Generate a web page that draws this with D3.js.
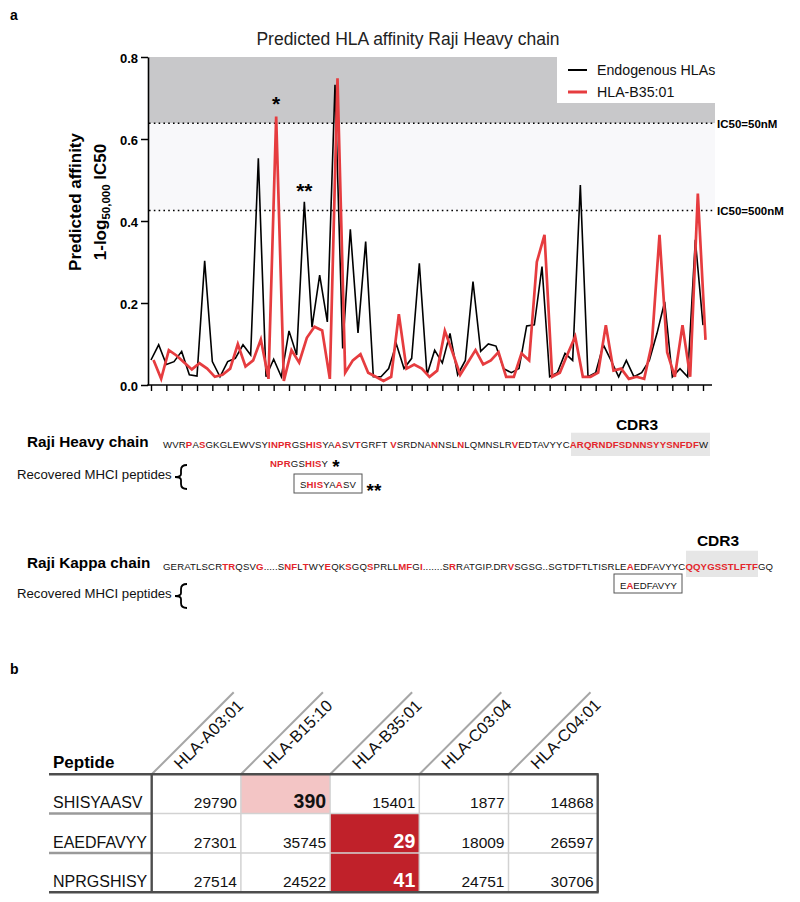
<!DOCTYPE html>
<html><head><meta charset="utf-8">
<script src="https://cdn.jsdelivr.net/npm/d3@7"></script>
<style>body{margin:0;background:#fff} svg{font-family:Arial,"Liberation Sans",sans-serif}</style>
</head><body><svg id="c" width="800" height="902"></svg>
<script>
// ---------- DATA ----------
const endogenous = [0.061,0.098,0.050,0.057,0.082,0.025,0.022,0.303,0.057,0.020,
  0.057,0.065,0.098,0.073,0.553,0.020,0.063,0.020,0.132,0.073,
  0.447,0.141,0.268,0.154,0.732,0.089,0.380,0.127,0.350,0.020,
  0.020,0.040,0.100,0.040,0.065,0.297,0.025,0.085,0.054,0.126,
  0.025,0.060,0.252,0.082,0.100,0.095,0.040,0.030,0.040,0.144,
  0.147,0.289,0.020,0.030,0.077,0.060,0.488,0.020,0.030,0.098,
  0.060,0.020,0.060,0.020,0.030,0.060,0.126,0.203,0.020,0.040,
  0.020,0.354,0.146];
const hlaB3501 = [0.061,0.015,0.085,0.072,0.055,0.038,0.053,0.040,0.020,0.025,
  0.040,0.100,0.045,0.060,0.111,0.015,0.655,0.010,0.085,0.055,
  0.115,0.142,0.133,0.015,0.748,0.030,0.060,0.075,0.030,0.020,
  0.010,0.020,0.173,0.040,0.050,0.040,0.020,0.035,0.132,0.080,
  0.025,0.055,0.085,0.050,0.060,0.080,0.020,0.020,0.077,0.060,
  0.300,0.366,0.020,0.030,0.075,0.118,0.020,0.020,0.030,0.146,
  0.035,0.040,0.015,0.020,0.015,0.100,0.366,0.080,0.020,0.146,
  0.020,0.467,0.110];
const yTicks = [0, 0.2, 0.4, 0.6, 0.8];
const thresholdsNM = [50, 500];
const thresholdLabels = ["IC50=50nM", "IC50=500nM"];
const seriesNames = ["Endogenous HLAs", "HLA-B35:01"];
const starIdx = [16, 20];
const starText = ["*", "**"];

const heavySeq = "WVR[P]A[S]GKGLEWVSY[INPR]GS[HIS]YA[A]SV[T]GRFT [V]SRDNA[N]NSL[N]LQMNSLR[V]EDTAVYYC[ARQRNDFSDNNSYYSNFDF]W";
const kappaSeq = "GERATLSCR[TR]QSV[G].....S[NF]L[T]WY[E]QK[S]GQ[S]PRLL[MF]G[I].......S[R]RATGIP.DR[V]SGSG..SGTDFTLTISRLE[A]EDFAVYYC[QQYGSSTLFTF]GQ";
const heavyPep1 = "[NPR]GS[HIS]Y";
const heavyPep2 = "S[HIS]YA[A]SV";
const kappaPep = "E[A]EDFAVYY";

const peptides = ["SHISYAASV", "EAEDFAVYY", "NPRGSHISY"];
const alleles = ["HLA-A03:01", "HLA-B15:10", "HLA-B35:01", "HLA-C03:04", "HLA-C04:01"];
const ic50 = [
  [29790, 390, 15401, 1877, 14868],
  [27301, 35745, 29, 18009, 26597],
  [27514, 24522, 41, 24751, 30706]
];

// ---------- DRAW ----------
(function () {
const svg = d3.select("#c");
const RED = "#e63c3f";
const x = d3.scaleLinear().domain([0, endogenous.length - 1]).range([151, 703]);
const y = d3.scaleLinear().domain([0, 0.8]).range([385, 57]);
const thr = thresholdsNM.map(n => 1 - Math.log(n) / Math.log(50000));

svg.append("text").attr("x", 10).attr("y", 20).attr("font-weight", "bold").attr("font-size", 14).text("a");
svg.append("text").attr("x", 408).attr("y", 45).attr("text-anchor", "middle").attr("font-size", 17.5).attr("fill", "#222")
  .text("Predicted HLA affinity Raji Heavy chain");

svg.append("rect").attr("x", 148).attr("y", y(0.8)).attr("width", 715 - 148).attr("height", y(thr[0]) - y(0.8)).attr("fill", "#c8c8ca");
svg.append("rect").attr("x", 148).attr("y", y(thr[0])).attr("width", 715 - 148).attr("height", y(thr[1]) - y(thr[0])).attr("fill", "#f8f8fa");
svg.append("rect").attr("x", 557).attr("y", 55).attr("width", 243).attr("height", 48).attr("fill", "#fff");

thr.forEach((t, i) => {
  svg.append("line").attr("x1", 149).attr("x2", 714).attr("y1", y(t)).attr("y2", y(t))
    .attr("stroke", "#000").attr("stroke-width", 1.6).attr("stroke-dasharray", "1.6,3.2");
  svg.append("text").attr("x", 717).attr("y", y(t) + 4.5).attr("font-size", 11.5).attr("font-weight", "bold").text(thresholdLabels[i]);
});

const line = d3.line().x((d, i) => x(i)).y(d => y(d));
svg.append("path").datum(endogenous).attr("d", line).attr("fill", "none").attr("stroke", "#000").attr("stroke-width", 1.6);
svg.append("path").datum(hlaB3501).attr("d", line).attr("transform", "translate(2.5,0)").attr("fill", "none").attr("stroke", RED).attr("stroke-width", 2.7);

const ya = svg.append("g").attr("transform", "translate(148,0)")
  .call(d3.axisLeft(y).tickValues(yTicks).tickSize(7).tickSizeOuter(0).tickFormat(d3.format(".1f")));
ya.selectAll("text").attr("font-size", 13).attr("font-weight", "bold").attr("font-family", "Arial,Liberation Sans,sans-serif").attr("dy", "0.4em");
ya.selectAll("line").attr("stroke-width", 1.5);
ya.select(".domain").attr("stroke-width", 1.6);
const xa = svg.append("g").attr("transform", "translate(0,385)")
  .call(d3.axisBottom(x).tickValues(d3.range(0, endogenous.length, 2)).tickSize(6).tickSizeOuter(0).tickFormat(""));
xa.select(".domain").remove();
xa.selectAll("line").attr("stroke-width", 1.4);
svg.append("line").attr("x1", 147.2).attr("x2", 712).attr("y1", 385).attr("y2", 385).attr("stroke", "#000").attr("stroke-width", 1.6);

svg.append("text").attr("transform", "translate(81,202) rotate(-90)").attr("text-anchor", "middle")
  .attr("font-size", 17).attr("font-weight", "bold").text("Predicted affinity");
const yl2 = svg.append("text").attr("transform", "translate(105.5,202) rotate(-90)").attr("text-anchor", "middle")
  .attr("font-size", 17).attr("font-weight", "bold");
yl2.append("tspan").text("1-log");
yl2.append("tspan").attr("font-size", 11.5).attr("dy", 4).text("50,000");
yl2.append("tspan").attr("dy", -4).text(" IC50");

svg.append("text").attr("x", x(starIdx[0]) + 2.5).attr("y", 111).attr("text-anchor", "middle").attr("font-size", 21).attr("font-weight", "bold").text(starText[0]);
svg.append("text").attr("x", x(starIdx[1])).attr("y", 198).attr("text-anchor", "middle").attr("font-size", 21).attr("font-weight", "bold").text(starText[1]);

[["#000", 2, 70], [RED, 3, 92]].forEach((s, i) => {
  svg.append("line").attr("x1", 568).attr("x2", 587).attr("y1", s[2]).attr("y2", s[2]).attr("stroke", s[0]).attr("stroke-width", s[1]);
  svg.append("text").attr("x", 597).attr("y", s[2] + 5.2).attr("font-size", 14.2).attr("fill", "#111").text(seriesNames[i]);
});

function colored(g, str, xPos, yPos, size, len) {
  const t = g.append("text").attr("x", xPos).attr("y", yPos).attr("font-size", size);
  if (len) t.attr("textLength", len).attr("lengthAdjust", "spacing");
  str.split(/(\[[^\]]+\])/).filter(s => s.length).forEach(s => {
    const red = s[0] === "[";
    t.append("tspan").attr("fill", red ? "#e3262c" : "#111").attr("font-weight", red ? "bold" : "normal")
      .text(red ? s.slice(1, -1) : s);
  });
  return t;
}
function brace(cy) {
  svg.append("path").attr("fill", "none").attr("stroke", "#000").attr("stroke-width", 1.8)
    .attr("d", `M187,${cy-12} Q181,${cy-12} 181,${cy-7} L181,${cy-3} Q181,${cy} 175,${cy} Q181,${cy} 181,${cy+3} L181,${cy+7} Q181,${cy+12} 187,${cy+12}`);
}
svg.append("rect").attr("x", 571).attr("y", 432.7).attr("width", 139).attr("height", 23.3).attr("fill", "#e6e6e6");
svg.append("text").attr("x", 637).attr("y", 430).attr("text-anchor", "middle").attr("font-size", 15.5).attr("font-weight", "bold").text("CDR3");
svg.append("text").attr("x", 27).attr("y", 447).attr("font-size", 15.3).attr("font-weight", "bold").text("Raji Heavy chain");
colored(svg, heavySeq, 163, 447.5, 9.6, 545);
svg.append("text").attr("x", 17).attr("y", 479).attr("font-size", 13.2).attr("fill", "#111").text("Recovered MHCI peptides");
brace(477);
colored(svg, heavyPep1, 270, 467, 9.6, 58);
svg.append("text").attr("x", 336).attr("y", 473).attr("text-anchor", "middle").attr("font-size", 19).attr("font-weight", "bold").text("*");
svg.append("rect").attr("x", 294).attr("y", 474).attr("width", 68).attr("height", 19).attr("fill", "none").attr("stroke", "#555").attr("stroke-width", 1);
colored(svg, heavyPep2, 300, 488.3, 9.6, 56);
svg.append("text").attr("x", 374).attr("y", 497).attr("text-anchor", "middle").attr("font-size", 19).attr("font-weight", "bold").text("**");

svg.append("rect").attr("x", 686).attr("y", 550.7).attr("width", 72).attr("height", 26.3).attr("fill", "#e6e6e6");
svg.append("text").attr("x", 718).attr("y", 546).attr("text-anchor", "middle").attr("font-size", 15.5).attr("font-weight", "bold").text("CDR3");
svg.append("text").attr("x", 27).attr("y", 568).attr("font-size", 15.3).attr("font-weight", "bold").text("Raji Kappa chain");
colored(svg, kappaSeq, 163, 569.5, 9.6, 610);
svg.append("text").attr("x", 17).attr("y", 598).attr("font-size", 13.2).attr("fill", "#111").text("Recovered MHCI peptides");
brace(596);
svg.append("rect").attr("x", 614).attr("y", 574).attr("width", 68).attr("height", 19).attr("fill", "none").attr("stroke", "#555").attr("stroke-width", 1);
colored(svg, kappaPep, 620, 589, 9.6, 57);

svg.append("text").attr("x", 10).attr("y", 674).attr("font-weight", "bold").attr("font-size", 14).text("b");
const tL = 49, c0 = 151.7, cw = 89.2, tTop = 774.3, rh = 39.3;
const tRight = c0 + cw * alleles.length, tBottom = tTop + rh * peptides.length;
svg.append("text").attr("x", 53).attr("y", 768).attr("font-size", 17).attr("font-weight", "bold").text("Peptide");
alleles.forEach((a, j) => {
  const lx = c0 + j * cw;
  svg.append("line").attr("x1", lx).attr("y1", tTop).attr("x2", lx + 82).attr("y2", tTop - 82).attr("stroke", "#a6a6a6").attr("stroke-width", 2);
  svg.append("text").attr("transform", `translate(${lx + 29},${tTop - 4}) rotate(-45)`).attr("font-size", 16.5).attr("fill", "#111").text(a);
});
peptides.forEach((p, r) => {
  const ry = tTop + r * rh;
  svg.append("text").attr("x", 53).attr("y", ry + 34).attr("font-size", 16).attr("fill", "#111").text(p);
  ic50[r].forEach((v, j) => {
    const cx = c0 + j * cw;
    const strong = v < 50, weak = v >= 50 && v < 500;
    svg.append("rect").attr("x", cx).attr("y", ry).attr("width", cw).attr("height", rh)
      .attr("fill", strong ? "#c0212a" : weak ? "#f3c5c5" : "#fff");
    svg.append("text").attr("x", cx + cw - 4).attr("y", ry + 34).attr("text-anchor", "end")
      .attr("font-size", (strong || weak) ? 19.5 : 15.5).attr("font-weight", (strong || weak) ? "bold" : "normal")
      .attr("fill", strong ? "#fff" : "#111").text(v);
  });
});
for (let k = 1; k < peptides.length; k++) {
  const ly = tTop + k * rh;
  svg.append("line").attr("x1", c0).attr("x2", tRight).attr("y1", ly).attr("y2", ly).attr("stroke", "#d2d2d2").attr("stroke-width", 1.5);
  svg.append("line").attr("x1", tL).attr("x2", c0).attr("y1", ly).attr("y2", ly).attr("stroke", "#9a9a9a").attr("stroke-width", 2.5);
}
for (let j = 1; j < alleles.length; j++) {
  const lx = c0 + j * cw;
  svg.append("line").attr("x1", lx).attr("x2", lx).attr("y1", tTop).attr("y2", tBottom).attr("stroke", "#d2d2d2").attr("stroke-width", 1.5);
}
const dk = "#4d4d4d";
svg.append("line").attr("x1", tL).attr("x2", tRight + 1).attr("y1", tTop).attr("y2", tTop).attr("stroke", dk).attr("stroke-width", 2.4);
svg.append("line").attr("x1", tL).attr("x2", tRight + 1).attr("y1", tBottom).attr("y2", tBottom).attr("stroke", dk).attr("stroke-width", 2.4);
svg.append("line").attr("x1", c0).attr("x2", c0).attr("y1", tTop).attr("y2", tBottom).attr("stroke", dk).attr("stroke-width", 2.4);
svg.append("line").attr("x1", tRight).attr("x2", tRight).attr("y1", tTop).attr("y2", tBottom).attr("stroke", dk).attr("stroke-width", 2.4);
})();
</script></body></html>
